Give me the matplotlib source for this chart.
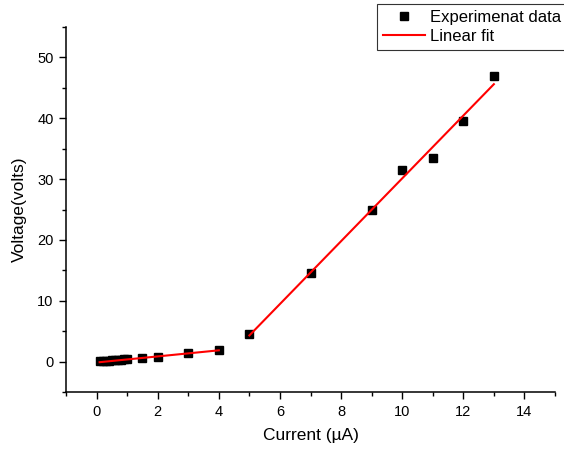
import matplotlib
matplotlib.use("Agg")
import matplotlib.pyplot as plt
import numpy as np
from matplotlib.ticker import MultipleLocator

plt.rcParams['font.family'] = ['Liberation Sans', 'DejaVu Sans']

# Measured current (µA) and voltage (V)
current = [0.1, 0.2, 0.3, 0.4, 0.5, 0.6, 0.7, 0.8, 0.9, 1.0,
           1.5, 2.0, 3.0, 4.0, 5.0, 7.0, 9.0, 10.0, 11.0, 12.0, 13.0]
voltage = [0.05, 0.08, 0.12, 0.16, 0.2, 0.24, 0.27, 0.31, 0.35, 0.4,
           0.65, 0.82, 1.4, 1.95, 4.5, 14.6, 25.0, 31.5, 33.5, 39.5, 47.0]

# Linear fit segments: (x start, x end) with fitted endpoints
fit_low_x = [0.1, 4.0]
fit_low_y = [-0.1, 1.85]
fit_high_x = [5.0, 13.0]
fit_high_y = [4.3, 45.6]

fig = plt.figure(figsize=(5.64, 4.5), dpi=100)
ax = fig.add_axes([66/564, 1 - 392/450, (555-66)/564, (392-27)/450])

ax.plot(fit_low_x, fit_low_y, color='red', lw=1.5, zorder=3)
ax.plot(fit_high_x, fit_high_y, color='red', lw=1.5, zorder=3, label='Linear fit')
ax.plot(current, voltage, linestyle='none', marker='s', ms=6, color='black',
        zorder=2, label='Experimenat data')

ax.set_xlim(-1, 15)
ax.set_ylim(-5, 55)
ax.xaxis.set_minor_locator(MultipleLocator(1))
ax.yaxis.set_minor_locator(MultipleLocator(5))
ax.set_xticks([0, 2, 4, 6, 8, 10, 12, 14])
ax.set_yticks([0, 10, 20, 30, 40, 50])

for s in ['top', 'right']:
    ax.spines[s].set_visible(False)
for s in ['left', 'bottom']:
    ax.spines[s].set_linewidth(1.1)

ax.tick_params(which='major', direction='out', length=5, width=1,
               labelsize=10.5, pad=4)
ax.tick_params(which='minor', direction='out', length=3, width=1)

ax.set_xlabel('Current (µA)', fontsize=12.5, labelpad=7)
ax.set_ylabel('Voltage(volts)', fontsize=12.5, labelpad=7)

handles, labels = ax.get_legend_handles_labels()
order = [1, 0]
leg = fig.legend([handles[i] for i in order], [labels[i] for i in order],
                 loc='upper left', bbox_to_anchor=(377/564, 1 - 4/450),
                 fontsize=12, frameon=True, fancybox=False, framealpha=1,
                 edgecolor='#333333', borderpad=0.35, handlelength=2.5,
                 handletextpad=0.35, labelspacing=0.25, borderaxespad=0)
leg.get_frame().set_linewidth(0.8)

fig.savefig('out.png', dpi=100)
